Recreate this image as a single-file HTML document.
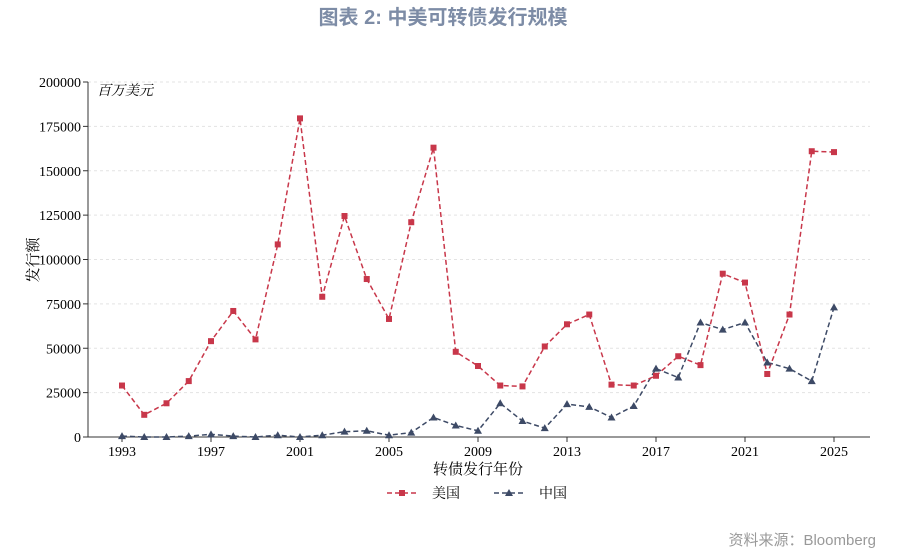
<!DOCTYPE html>
<html><head><meta charset="utf-8"><style>
body{margin:0;background:#fff;width:903px;height:552px;overflow:hidden}
svg text{font-family:"Liberation Serif","Noto Serif CJK SC",serif}
</style></head><body>
<svg id="c" width="903" height="552" xmlns="http://www.w3.org/2000/svg">
<text x="443" y="24" text-anchor="middle" font-size="20" font-weight="bold" fill="#7d8ca6" style="font-family:'Liberation Sans','Noto Sans CJK SC',sans-serif">图表 2:  中美可转债发行规模</text>
<text x="876" y="545" text-anchor="end" font-size="15" fill="#999" style="font-family:'Liberation Sans','Noto Sans CJK SC',sans-serif">资料来源：Bloomberg</text>
<text x="97" y="95" font-size="14" fill="#000" font-style="italic">百万美元</text>
<text x="38" y="260" font-size="15" text-anchor="middle" transform="rotate(-90 38 260)">发行额</text>
<text x="478" y="474" font-size="15" text-anchor="middle">转债发行年份</text>
<g id="g"></g>
<line x1="387" y1="493" x2="417" y2="493" stroke="#c8374a" stroke-width="1.5" stroke-dasharray="5,3"/>
<rect x="399" y="490" width="6" height="6" fill="#c8374a"/>
<text x="432" y="498" font-size="14">美国</text>
<line x1="494" y1="493" x2="524" y2="493" stroke="#3d4a66" stroke-width="1.5" stroke-dasharray="5,3"/>
<polygon points="509,489 513,496 505,496" fill="#3d4a66"/>
<text x="539" y="498" font-size="14">中国</text>
</svg>
<script>
var us=[29000,12500,19000,31500,54000,71000,55000,108500,179500,79000,124500,89000,66500,121000,163000,48000,40000,29000,28500,51000,63500,69000,29500,29000,34500,45500,40500,92000,87000,35500,69000,161000,160500];
var cn=[500,0,0,500,1500,500,0,1000,0,1000,3000,3500,1000,2500,11000,6500,3500,19000,9000,5000,18500,17000,11000,17500,38500,33500,64500,60500,64500,42000,38500,31500,73000];
function X(i){return 122+i*22.25}function Y(v){return 437-v*355/200000}
var s='';
for(var v=0;v<=200000;v+=25000){var y=Y(v);if(v>0)s+='<line x1="88" x2="870" y1="'+y+'" y2="'+y+'" stroke="#e3e3e3" stroke-dasharray="3,3"/>';
s+='<line x1="83" x2="88" y1="'+y+'" y2="'+y+'" stroke="#333"/><text x="81" y="'+(y+5)+'" font-size="14" text-anchor="end">'+v+'</text>';}
s+='<line x1="88" x2="88" y1="82" y2="437" stroke="#333"/><line x1="88" x2="870" y1="437" y2="437" stroke="#333"/>';
for(var yr=1993;yr<=2025;yr+=4){var x=X(yr-1993);s+='<line x1="'+x+'" x2="'+x+'" y1="437" y2="442" stroke="#333"/><text x="'+x+'" y="456" font-size="14" text-anchor="middle">'+yr+'</text>';}
function line(d,c){return '<polyline fill="none" stroke="'+c+'" stroke-width="1.5" stroke-dasharray="5,3" points="'+d.map(function(v,i){return X(i)+','+Y(v)}).join(' ')+'"/>'}
s+=line(cn,'#3d4a66');s+=line(us,'#c8374a');
cn.forEach(function(v,i){var x=X(i),y=Y(v);s+='<polygon points="'+x+','+(y-4)+' '+(x+4)+','+(y+3)+' '+(x-4)+','+(y+3)+'" fill="#3d4a66"/>'});
us.forEach(function(v,i){s+='<rect x="'+(X(i)-3)+'" y="'+(Y(v)-3)+'" width="6" height="6" fill="#c8374a"/>'});
document.getElementById('g').innerHTML=s;
</script>
</body></html>
